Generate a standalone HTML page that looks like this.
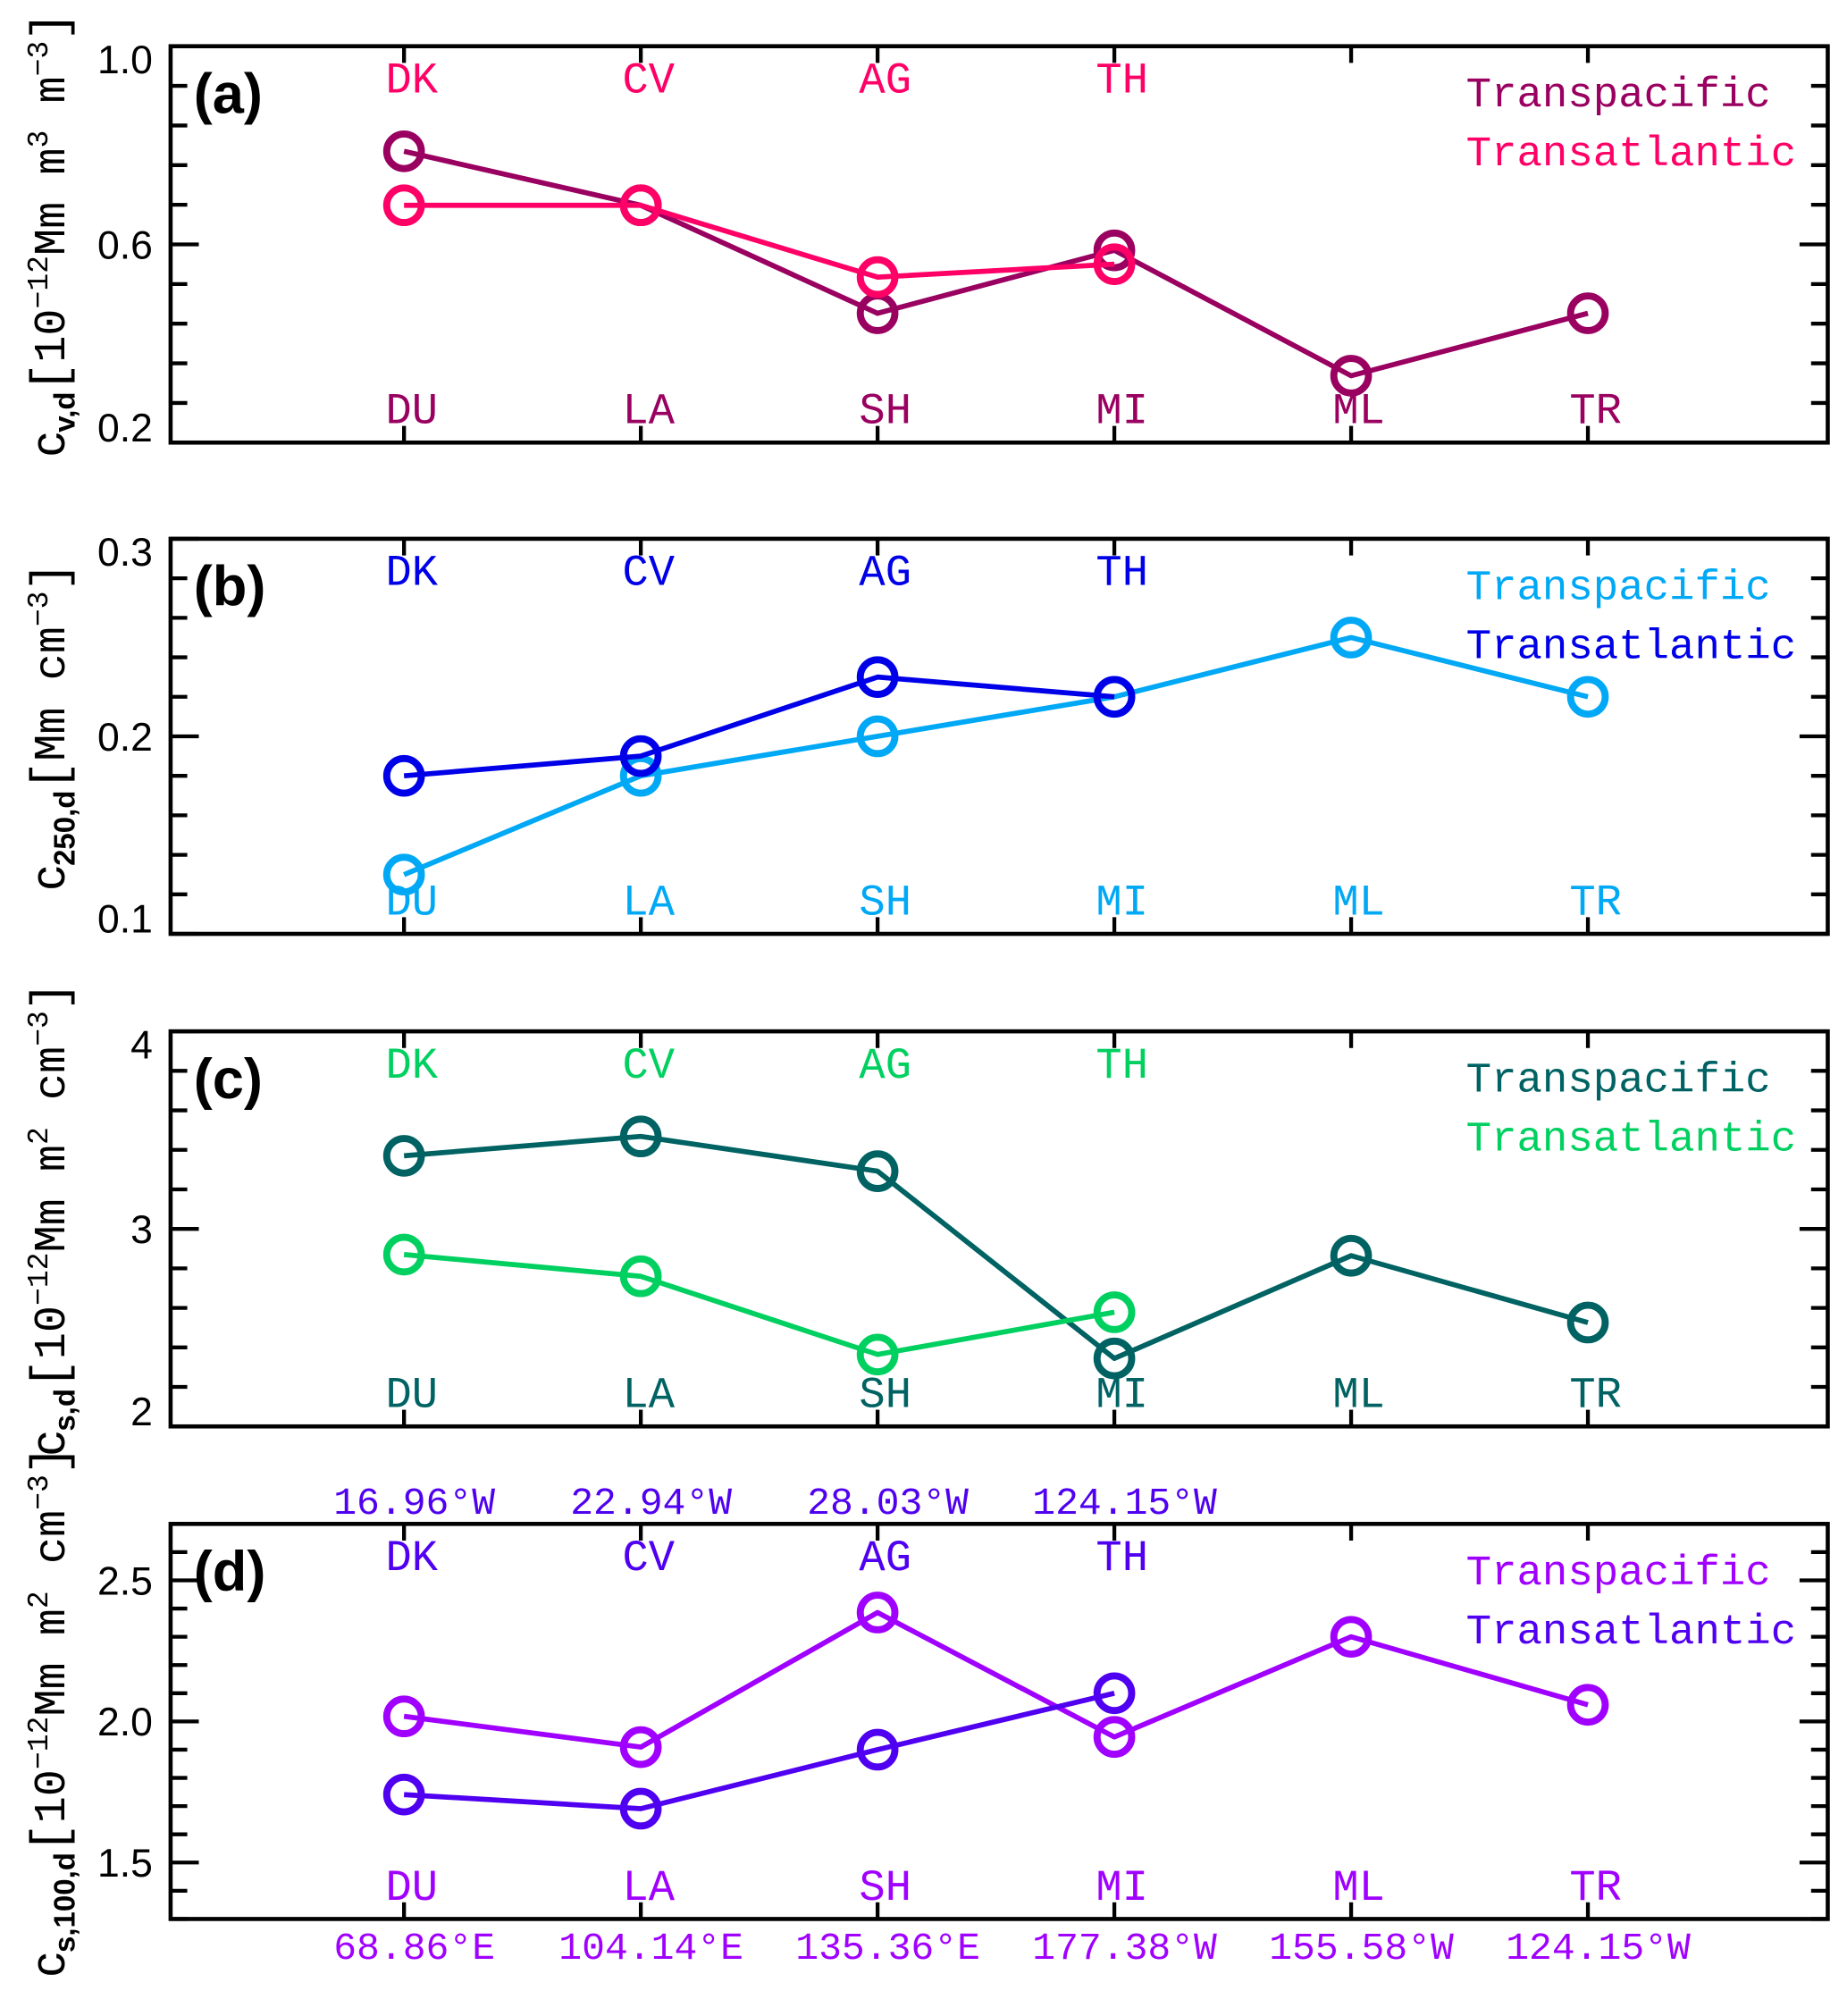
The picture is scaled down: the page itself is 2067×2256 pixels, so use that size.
<!DOCTYPE html>
<html><head><meta charset="utf-8"><style>
html,body{margin:0;padding:0;background:#fff;}
svg{display:block;}
</style></head><body>
<svg id="chart" xmlns="http://www.w3.org/2000/svg" width="2067" height="2256" viewBox="0 0 1440 1571.6"></svg>
<script>
const NS = "http://www.w3.org/2000/svg";
const svg = document.getElementById('chart');

// ---- data ----
const stationsTop = ["DK","CV","AG","TH"];
const stationsBottom = ["DU","LA","SH","MI","ML","TR"];
const lonTop = ["16.96°W","22.94°W","28.03°W","124.15°W"];
const lonBottom = ["68.86°E","104.14°E","135.36°E","177.38°W","155.58°W","124.15°W"];
const aPacific = [0.788,0.679,0.461,0.588,0.335,0.461];
const aAtlantic = [0.679,0.679,0.534,0.560];
const bPacific = [0.130,0.180,0.200,0.220,0.250,0.220];
const bAtlantic = [0.180,0.190,0.230,0.220];
const cPacific = [3.370,3.468,3.292,2.344,2.864,2.526];
const cAtlantic = [2.870,2.760,2.364,2.578];
const dPacific = [2.018,1.909,2.386,1.945,2.300,2.059];
const dAtlantic = [1.741,1.691,1.900,2.100];
const aTicks = ["0.2","0.6","1.0"];
const bTicks = ["0.1","0.2","0.3"];
const cTicks = ["2","3","4"];
const dTicks = ["1.5","2.0","2.5"];

const X0 = 133, X1 = 1425;
const stationX0 = 315, stationDX = 184.6;
function xPos(i){ return stationX0 + i*stationDX; }

function el(tag, attrs, parent){
  const e = document.createElementNS(NS, tag);
  for (const k in attrs) e.setAttribute(k, attrs[k]);
  (parent||svg).appendChild(e);
  return e;
}

const panels = [
  {id:'a', top:36, bot:345, ymin:0.2, ymax:1.0, major:0.4, minor:0.08, ticks:aTicks, pac:aPacific, atl:aAtlantic, cp:'#990060', ca:'#FF0066'},
  {id:'b', top:420, bot:728, ymin:0.1, ymax:0.3, major:0.1, minor:0.02, ticks:bTicks, pac:bPacific, atl:bAtlantic, cp:'#00A8F5', ca:'#0000E8'},
  {id:'c', top:804, bot:1112, ymin:2, ymax:4, major:1, minor:0.2, ticks:cTicks, pac:cPacific, atl:cAtlantic, cp:'#006262', ca:'#00D060'},
  {id:'d', top:1188, bot:1496, ymin:1.3, ymax:2.7, major:0.5, minor:0.1, ticks:dTicks, pac:dPacific, atl:dAtlantic, cp:'#A000FF', ca:'#5000F0', majorStart:1.5}
];

const ytitles = [
  {sub:'v,d', unit:[['10',0],['−12',1],['Mm m',0],['3',1],[' m',0],['−3',1]]},
  {sub:'250,d', unit:[['Mm cm',0],['−3',1]]},
  {sub:'s,d', unit:[['10',0],['−12',1],['Mm m',0],['2',1],[' cm',0],['−3',1]]},
  {sub:'s,100,d', unit:[['10',0],['−12',1],['Mm m',0],['2',1],[' cm',0],['−3',1]]}
];

panels.forEach((p, pi) => {
  const g = el('g', {});
  
  
  const yPos = v => p.bot - (v - p.ymin)/(p.ymax - p.ymin)*(p.bot - p.top);

  const fr = el('rect', {x:X0, y:p.top, width:X1-X0, height:p.bot-p.top, fill:'none', stroke:'#000', 'stroke-width':3.2}, g);
  
  

  const n = Math.round((p.ymax - p.ymin)/p.minor);
  const ms = p.majorStart !== undefined ? p.majorStart : p.ymin;
  for (let k=0;k<=n;k++){
    const v = p.ymin + k*p.minor;
    const r = (v - ms)/p.major;
    const isMajor = Math.abs(r - Math.round(r)) < 1e-6;
    const L = isMajor ? 22 : 13;
    const y = yPos(v);
    el('line', {x1:X0, x2:X0+L, y1:y, y2:y, stroke:'#000', 'stroke-width':3}, g);
    el('line', {x1:X1, x2:X1-L, y1:y, y2:y, stroke:'#000', 'stroke-width':3}, g);
  }
  p.ticks.forEach((t, i) => {
    let y = yPos(parseFloat(t));
    if (y < p.top + 10) y = p.top + 10;
    if (y > p.bot - 12) y = p.bot - 12;
    const tx = el('text', {x:119, y:y+11, 'text-anchor':'end', 'font-family':'Liberation Sans, sans-serif', 'font-size':31, fill:'#000'}, g);
    tx.textContent = t;
    
    
  });
  for (let i=0;i<stationsBottom.length;i++){
    const x = xPos(i);
    el('line', {x1:x, x2:x, y1:p.bot, y2:p.bot-13, stroke:'#000', 'stroke-width':3}, g);
    el('line', {x1:x, x2:x, y1:p.top, y2:p.top+13, stroke:'#000', 'stroke-width':3}, g);
  }
  stationsTop.forEach((s,i)=>{
    const t = el('text', {x:xPos(i)+6, y:p.top+36, 'text-anchor':'middle', 'font-family':'Liberation Mono, monospace', 'font-size':34, fill:p.ca}, g);
    t.textContent = s;
    
    
  });
  stationsBottom.forEach((s,i)=>{
    const t = el('text', {x:xPos(i)+6, y:p.bot-15, 'text-anchor':'middle', 'font-family':'Liberation Mono, monospace', 'font-size':34, fill:p.cp}, g);
    t.textContent = s;
    
    
  });
  const pl = el('text', {x:151, y:p.top+52, 'font-family':'Liberation Sans, sans-serif', 'font-weight':'bold', 'font-size':44, fill:'#000'}, g);
  pl.textContent = '(' + p.id + ')';
  
  
  const l1 = el('text', {x:1143, y:p.top+47, 'font-family':'Liberation Mono, monospace', 'font-size':33, fill:p.cp}, g);
  l1.textContent = 'Transpacific';
  
  
  const l2 = el('text', {x:1143, y:p.top+93, 'font-family':'Liberation Mono, monospace', 'font-size':33, fill:p.ca}, g);
  l2.textContent = 'Transatlantic';
  
  

  [[p.pac, p.cp, 'transpacific'], [p.atl, p.ca, 'transatlantic']].forEach(([vals, col, nm]) => {
    const pts = vals.map((v,i)=> xPos(i).toFixed(1) + ',' + yPos(v).toFixed(1)).join(' ');
    const pl2 = el('polyline', {points:pts, fill:'none', stroke:col, 'stroke-width':4, 'stroke-linejoin':'round'}, g);
    
    
    vals.forEach((v,i)=>{
      const c = el('circle', {cx:xPos(i), cy:yPos(v), r:13.5, fill:'none', stroke:col, 'stroke-width':5.5}, g);
      
      
    });
  });

  const cy = (p.top + p.bot)/2 - 8;
  const tt = el('text', {transform:'translate(50,' + cy + ') rotate(-90)', 'text-anchor':'middle', 'font-family':'Liberation Mono, monospace', 'font-size':35, fill:'#000'}, g);
  
  
  const yt = ytitles[pi];
  const s0 = el('tspan', {'font-family':'Liberation Sans, sans-serif', 'font-size':38}, tt); s0.textContent = 'c';
  const s1 = el('tspan', {'font-size':23, 'font-family':'Liberation Sans, sans-serif', 'font-weight':'bold', dy:8}, tt); s1.textContent = yt.sub;
  const s2 = el('tspan', {dy:-8, 'font-size':38}, tt); s2.textContent = '[';
  let cur = 0;
  yt.unit.forEach(([txt, sup]) => {
    const dy = sup ? (cur ? 0 : -13) : (cur ? 13 : 0);
    const ts = el('tspan', {dy:dy, 'font-size': sup ? 23 : 35}, tt);
    ts.textContent = txt;
    cur = sup;
  });
  const se = el('tspan', {dy: cur ? 13 : 0, 'font-size':38}, tt); se.textContent = ']';
});

const pd = panels[3];
lonTop.forEach((s,i)=>{
  const t = el('text', {x:xPos(i)+8, y:1180, 'text-anchor':'middle', 'font-family':'Liberation Mono, monospace', 'font-size':30, fill:pd.ca});
  t.textContent = s;
  
  
});
lonBottom.forEach((s,i)=>{
  const t = el('text', {x:xPos(i)+8, y:1527, 'text-anchor':'middle', 'font-family':'Liberation Mono, monospace', 'font-size':30, fill:pd.cp});
  t.textContent = s;
  
  
});
</script>
</body></html>
